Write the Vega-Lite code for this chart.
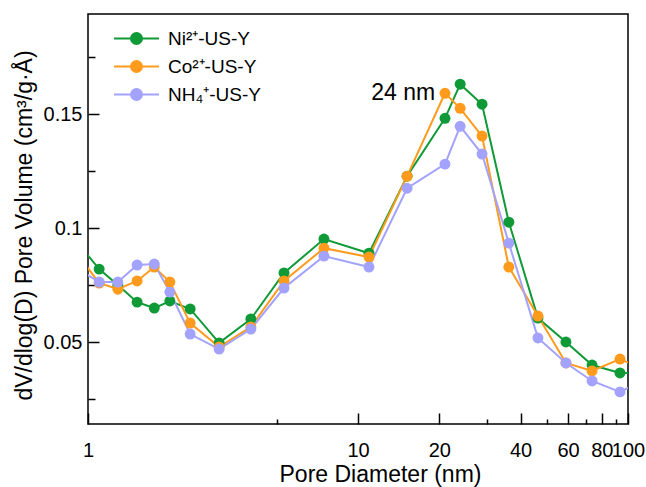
{
  "$schema": "https://vega.github.io/schema/vega-lite/v6.json",
  "width": 540,
  "height": 410,
  "autosize": "none",
  "padding": {"left": 88, "top": 14, "right": 18, "bottom": 63},
  "background": "white",
  "config": {
    "view": {"stroke": "black", "strokeWidth": 1.5},
    "font": "Liberation Sans",
    "axis": {
      "grid": false,
      "domain": false,
      "tickColor": "black",
      "tickWidth": 1.5,
      "labelColor": "black",
      "titleColor": "black",
      "labelFont": "Liberation Sans",
      "titleFont": "Liberation Sans",
      "labelFontSize": 20,
      "titleFontSize": 23,
      "titleFontWeight": "normal"
    }
  },
  "data": {
    "values": [
      {"s": "Ni²⁺-US-Y", "d": 0.93, "v": 0.0925},
      {"s": "Ni²⁺-US-Y", "d": 1.1, "v": 0.082},
      {"s": "Ni²⁺-US-Y", "d": 1.29, "v": 0.075},
      {"s": "Ni²⁺-US-Y", "d": 1.52, "v": 0.0675},
      {"s": "Ni²⁺-US-Y", "d": 1.76, "v": 0.0649},
      {"s": "Ni²⁺-US-Y", "d": 2.01, "v": 0.068},
      {"s": "Ni²⁺-US-Y", "d": 2.39, "v": 0.0645},
      {"s": "Ni²⁺-US-Y", "d": 3.06, "v": 0.0496},
      {"s": "Ni²⁺-US-Y", "d": 4.01, "v": 0.0601},
      {"s": "Ni²⁺-US-Y", "d": 5.32, "v": 0.0803},
      {"s": "Ni²⁺-US-Y", "d": 7.48, "v": 0.0952},
      {"s": "Ni²⁺-US-Y", "d": 10.98, "v": 0.089},
      {"s": "Ni²⁺-US-Y", "d": 15.2, "v": 0.1228},
      {"s": "Ni²⁺-US-Y", "d": 21.0, "v": 0.1482},
      {"s": "Ni²⁺-US-Y", "d": 23.9, "v": 0.1632},
      {"s": "Ni²⁺-US-Y", "d": 28.8, "v": 0.1544},
      {"s": "Ni²⁺-US-Y", "d": 36.2, "v": 0.1026},
      {"s": "Ni²⁺-US-Y", "d": 46.4, "v": 0.0605},
      {"s": "Ni²⁺-US-Y", "d": 58.9, "v": 0.05},
      {"s": "Ni²⁺-US-Y", "d": 73.6, "v": 0.0399},
      {"s": "Ni²⁺-US-Y", "d": 93.4, "v": 0.0364},
      {"s": "Ni²⁺-US-Y", "d": 118.6, "v": 0.0362},
      {"s": "Co²⁺-US-Y", "d": 0.93, "v": 0.0873},
      {"s": "Co²⁺-US-Y", "d": 1.1, "v": 0.0759},
      {"s": "Co²⁺-US-Y", "d": 1.29, "v": 0.0732},
      {"s": "Co²⁺-US-Y", "d": 1.52, "v": 0.0768},
      {"s": "Co²⁺-US-Y", "d": 1.76, "v": 0.0829},
      {"s": "Co²⁺-US-Y", "d": 2.01, "v": 0.0763},
      {"s": "Co²⁺-US-Y", "d": 2.39, "v": 0.0583},
      {"s": "Co²⁺-US-Y", "d": 3.06, "v": 0.0478},
      {"s": "Co²⁺-US-Y", "d": 4.01, "v": 0.0566},
      {"s": "Co²⁺-US-Y", "d": 5.32, "v": 0.0768},
      {"s": "Co²⁺-US-Y", "d": 7.48, "v": 0.0912},
      {"s": "Co²⁺-US-Y", "d": 10.98, "v": 0.0873},
      {"s": "Co²⁺-US-Y", "d": 15.2, "v": 0.1228},
      {"s": "Co²⁺-US-Y", "d": 21.0, "v": 0.1592},
      {"s": "Co²⁺-US-Y", "d": 23.9, "v": 0.1526},
      {"s": "Co²⁺-US-Y", "d": 28.8, "v": 0.1404},
      {"s": "Co²⁺-US-Y", "d": 36.2, "v": 0.0829},
      {"s": "Co²⁺-US-Y", "d": 46.4, "v": 0.0614},
      {"s": "Co²⁺-US-Y", "d": 58.9, "v": 0.0408},
      {"s": "Co²⁺-US-Y", "d": 73.6, "v": 0.0373},
      {"s": "Co²⁺-US-Y", "d": 93.4, "v": 0.0425},
      {"s": "Co²⁺-US-Y", "d": 118.6, "v": 0.0373},
      {"s": "NH₄⁺-US-Y", "d": 0.93, "v": 0.0816},
      {"s": "NH₄⁺-US-Y", "d": 1.1, "v": 0.0763},
      {"s": "NH₄⁺-US-Y", "d": 1.29, "v": 0.0763},
      {"s": "NH₄⁺-US-Y", "d": 1.52, "v": 0.0838},
      {"s": "NH₄⁺-US-Y", "d": 1.76, "v": 0.0842},
      {"s": "NH₄⁺-US-Y", "d": 2.01, "v": 0.0719},
      {"s": "NH₄⁺-US-Y", "d": 2.39, "v": 0.0535},
      {"s": "NH₄⁺-US-Y", "d": 3.06, "v": 0.0469},
      {"s": "NH₄⁺-US-Y", "d": 4.01, "v": 0.0557},
      {"s": "NH₄⁺-US-Y", "d": 5.32, "v": 0.0737},
      {"s": "NH₄⁺-US-Y", "d": 7.48, "v": 0.0877},
      {"s": "NH₄⁺-US-Y", "d": 10.98, "v": 0.0829},
      {"s": "NH₄⁺-US-Y", "d": 15.2, "v": 0.1175},
      {"s": "NH₄⁺-US-Y", "d": 21.0, "v": 0.1281},
      {"s": "NH₄⁺-US-Y", "d": 23.9, "v": 0.1447},
      {"s": "NH₄⁺-US-Y", "d": 28.8, "v": 0.1325},
      {"s": "NH₄⁺-US-Y", "d": 36.2, "v": 0.0934},
      {"s": "NH₄⁺-US-Y", "d": 46.4, "v": 0.0518},
      {"s": "NH₄⁺-US-Y", "d": 58.9, "v": 0.0408},
      {"s": "NH₄⁺-US-Y", "d": 73.6, "v": 0.0329},
      {"s": "NH₄⁺-US-Y", "d": 93.4, "v": 0.0281},
      {"s": "NH₄⁺-US-Y", "d": 118.6, "v": 0.0342}
    ]
  },
  "resolve": {"axis": {"x": "independent", "y": "independent"}},
  "layer": [
    {
      "mark": {"type": "line", "strokeWidth": 2, "clip": true},
      "encoding": {
        "x": {
          "field": "d",
          "type": "quantitative",
          "scale": {"type": "log", "domain": [1, 100], "nice": false},
          "axis": {
            "orient": "bottom",
            "offset": -11,
            "title": "Pore Diameter (nm)",
            "values": [1, 10, 20, 40, 60, 80, 100],
            "labelExpr": "datum.value + ''",
            "labelFlush": false,
            "labelOverlap": false,
            "tickSize": 11,
            "labelPadding": 16,
            "titleX": 292,
            "titleY": 68,
            "titleBaseline": "alphabetic",
            "titleAlign": "center",
            "titleAnchor": null
          }
        },
        "y": {
          "field": "v",
          "type": "quantitative",
          "scale": {"domain": [0.014, 0.194], "nice": false, "zero": false},
          "axis": {
            "orient": "left",
            "offset": -11,
            "title": "dV/dlog(D) Pore Volume (cm³/g·Å)",
            "values": [0.05, 0.1, 0.15],
            "labelExpr": "format(datum.value, '~g')",
            "tickSize": 11,
            "labelPadding": 6,
            "titleX": -75,
            "titleY": 211,
            "titleAngle": -90,
            "titleBaseline": "middle",
            "titleAlign": "center",
            "titleAnchor": null
          }
        },
        "color": {
          "field": "s",
          "type": "nominal",
          "sort": ["Ni²⁺-US-Y", "Co²⁺-US-Y", "NH₄⁺-US-Y"],
          "scale": {
            "domain": ["Ni²⁺-US-Y", "Co²⁺-US-Y", "NH₄⁺-US-Y"],
            "range": ["#0f9a37", "#ff9b1c", "#a3a3ff"]
          },
          "legend": {
            "title": null,
            "orient": "none",
            "legendX": 34,
            "legendY": 10,
            "padding": 2,
            "symbolType": "M-2,0L2,0M-0.489,0A0.489,0.489 0 1,0 0.489,0A0.489,0.489 0 1,0 -0.489,0Z",
            "symbolSize": 506,
            "symbolStrokeWidth": 2,
            "symbolOpacity": 1,
            "labelFontSize": 19,
            "labelFont": "Liberation Sans",
            "labelColor": "black",
            "labelOffset": 19,
            "rowPadding": 5,
            "encode": {
              "symbols": {
                "update": {
                  "fill": {"scale": "color", "field": "value"},
                  "stroke": {"scale": "color", "field": "value"}
                }
              }
            }
          }
        }
      }
    },
    {
      "mark": {"type": "circle", "size": 120, "opacity": 1, "clip": true},
      "encoding": {
        "x": {
          "field": "d",
          "type": "quantitative",
          "scale": {"type": "log", "domain": [1, 100], "nice": false},
          "axis": {
            "orient": "bottom",
            "offset": -5,
            "title": null,
            "values": [5, 30, 50, 70, 90],
            "labels": false,
            "tickSize": 5
          }
        },
        "y": {
          "field": "v",
          "type": "quantitative",
          "scale": {"domain": [0.014, 0.194], "nice": false, "zero": false},
          "axis": {
            "orient": "left",
            "offset": -7,
            "title": null,
            "values": [0.025, 0.075, 0.125, 0.175],
            "labels": false,
            "tickSize": 7
          }
        },
        "color": {"field": "s", "type": "nominal"}
      }
    },
    {
      "data": {"values": [{}]},
      "mark": {"type": "text", "align": "right", "baseline": "middle", "fontSize": 23, "font": "Liberation Sans", "color": "black"},
      "encoding": {
        "x": {"datum": 19.3, "type": "quantitative", "axis": null},
        "y": {"datum": 0.1592, "type": "quantitative", "axis": null},
        "text": {"value": "24 nm"}
      }
    }
  ]
}
